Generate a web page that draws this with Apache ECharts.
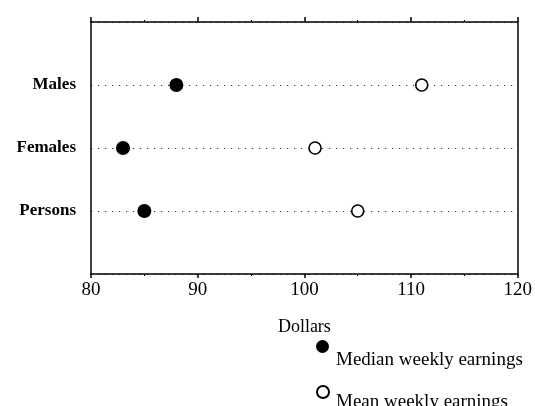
<!DOCTYPE html>
<html>
<head>
<meta charset="utf-8">
<script src="https://cdn.jsdelivr.net/npm/echarts@6/dist/echarts.min.js"></script>
<style>
  html, body { margin: 0; padding: 0; background: #fff; }
  #chart { width: 535px; height: 406px; }
</style>
</head>
<body>
<div id="chart"></div>
<script>
// Weekly earnings by sex, in dollars
const categories = ['Males', 'Females', 'Persons'];
const medianEarnings = [88, 83, 85];
const meanEarnings = [111, 101, 105];
const dollarTicks = [80, 90, 100, 110, 120];
const medianName = 'Median weekly earnings';
const meanName = 'Mean weekly earnings';

const FONT = '"Liberation Serif", "DejaVu Serif", serif';

// Categories are laid out top to bottom on a 0..n+1 value scale
const rowOf = i => categories.length - i;
const toPoints = values => values.map((v, i) => [v, rowOf(i)]);

const tickMin = dollarTicks[0];
const tickMax = dollarTicks[dollarTicks.length - 1];
const tickStep = dollarTicks[1] - dollarTicks[0];

const axisLine = { show: true, onZero: false, lineStyle: { color: '#000', width: 1.5 } };

// Legend entries: the marker sits slightly above its caption
const legendEntry = (name, top, size, drop) => ({
  data: [{ name: name, icon: 'circle' }],
  orient: 'vertical', left: 316, top: top, padding: 0,
  itemWidth: size, itemHeight: size, selectedMode: false,
  formatter: '{t|{name}}',
  textStyle: {
    color: '#000', fontFamily: FONT, fontSize: 19,
    rich: { t: { color: '#000', fontFamily: FONT, fontSize: 19, padding: [drop, 0, 0, 2] } }
  }
});

const chart = echarts.init(document.getElementById('chart'), null, { renderer: 'canvas' });

chart.setOption({
  animation: false,
  backgroundColor: '#fff',
  grid: { left: 91, right: 13, top: 22, bottom: 132, containLabel: false },
  xAxis: [
    {
      type: 'value', position: 'bottom', min: tickMin, max: tickMax, interval: tickStep,
      axisLine: axisLine,
      axisTick: { show: true, inside: false, length: 4, lineStyle: { color: '#000', width: 1.5 } },
      minorTick: { show: true, splitNumber: 2, length: 2, lineStyle: { color: '#000', width: 1 } },
      splitLine: { show: false },
      axisLabel: { color: '#000', fontFamily: FONT, fontSize: 19, margin: 7 },
      name: 'Dollars', nameLocation: 'middle', nameGap: 44,
      nameTextStyle: { color: '#000', fontFamily: FONT, fontSize: 18 }
    },
    {
      type: 'value', position: 'top', min: tickMin, max: tickMax, interval: tickStep,
      axisLine: axisLine,
      axisTick: { show: true, inside: false, length: 5, lineStyle: { color: '#000', width: 1.5 } },
      minorTick: { show: true, splitNumber: 2, length: 2, lineStyle: { color: '#000', width: 1 } },
      splitLine: { show: false },
      axisLabel: { show: false }
    }
  ],
  yAxis: [
    {
      type: 'value', position: 'left', min: 0, max: categories.length + 1, interval: 1,
      axisLine: axisLine,
      axisTick: { show: false },
      splitLine: { show: true, lineStyle: { color: '#333', width: 1.2, type: [1.2, 5.8] } },
      axisLabel: {
        color: '#000', fontFamily: FONT, fontSize: 17, fontWeight: 'bold', margin: 15,
        formatter: v => categories[categories.length - v] || ''
      }
    },
    {
      type: 'value', position: 'right', min: 0, max: categories.length + 1, interval: 1,
      axisLine: axisLine,
      axisTick: { show: false },
      splitLine: { show: false },
      axisLabel: { show: false }
    }
  ],
  legend: [
    legendEntry(medianName, 340, 13, 28),
    legendEntry(meanName, 385, 12, 20)
  ],
  series: [
    {
      name: medianName, type: 'scatter', xAxisIndex: 0, yAxisIndex: 0,
      symbol: 'circle', symbolSize: 14,
      itemStyle: { color: '#000', opacity: 1 },
      data: toPoints(medianEarnings), z: 5
    },
    {
      name: meanName, type: 'scatter', xAxisIndex: 0, yAxisIndex: 0,
      symbol: 'circle', symbolSize: 12,
      itemStyle: { color: '#fff', borderColor: '#000', borderWidth: 1.6, opacity: 1 },
      data: toPoints(meanEarnings), z: 5
    }
  ]
});
</script>
</body>
</html>
